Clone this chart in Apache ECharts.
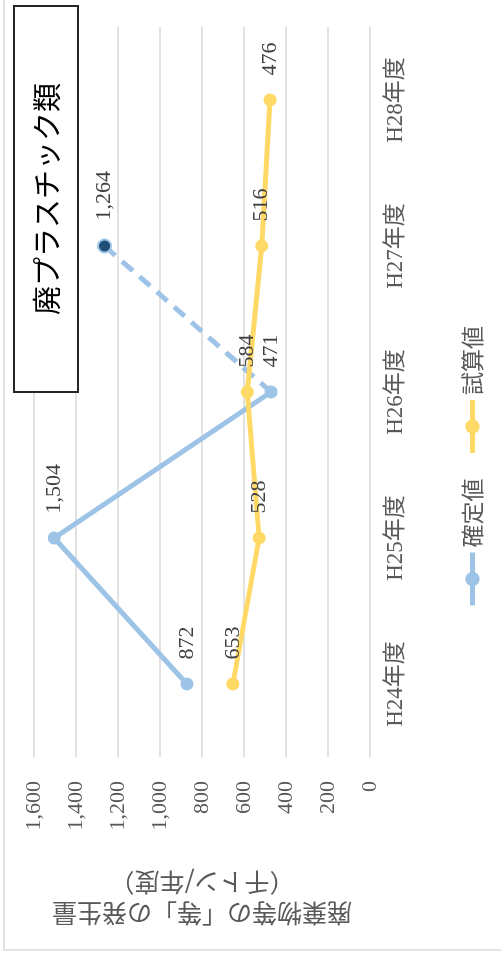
<!DOCTYPE html>
<html>
<head>
<meta charset="utf-8">
<script src="https://cdn.jsdelivr.net/npm/echarts@6/dist/echarts.min.js"></script>
<style>
html,body{margin:0;padding:0;background:#fff;overflow:hidden;width:501px;height:957px;}
#chart{position:absolute;left:0;top:0;width:957px;height:501px;transform-origin:0 0;transform:translateY(957px) rotate(-90deg);}
</style>
</head>
<body>
<div id="chart"></div>
<script>
const categories = ['H24年度', 'H25年度', 'H26年度', 'H27年度', 'H28年度'];
const confirmedValues = [872, 1504, 471, null, null];
const confirmedEstimate = [null, null, 471, 1264, null];
const trialValues = [653, 528, 584, 516, 476];
const valueTicks = { min: 0, max: 1600, interval: 200 };
const titleText = '廃プラスチック類';
const axisTitle = '廃棄物等の「等」の発生量\n（千トン/年度）';

const serif = '"Liberation Serif", "Noto Sans CJK JP", serif';
const fmt = v => Number(v).toLocaleString('en-US');
const BLUE = '#9dc3e6', YELLOW = '#ffd966', DARK = '#1f4e79';

const labelBase = {
  show: true, position: 'right', distance: 18,
  fontFamily: serif, fontSize: 22, color: '#404040',
  formatter: p => fmt(p.value)
};

const chart = echarts.init(document.getElementById('chart'), null, { renderer: 'canvas' });
chart.setOption({
  animation: false,
  backgroundColor: '#fff',
  grid: { left: 200, right: 27, top: 34, bottom: 131 },
  xAxis: {
    type: 'category', data: categories, boundaryGap: true,
    axisLine: { show: false }, axisTick: { show: false },
    axisLabel: { margin: 14, fontFamily: serif, fontSize: 23, color: '#595959' }
  },
  yAxis: {
    type: 'value', min: valueTicks.min, max: valueTicks.max, interval: valueTicks.interval,
    axisLine: { show: false }, axisTick: { show: false },
    axisLabel: { margin: 24, fontFamily: serif, fontSize: 22, color: '#595959', formatter: v => fmt(v) },
    splitLine: { lineStyle: { color: '#d9d9d9', width: 1.5 } },
    name: axisTitle, nameLocation: 'middle', nameRotate: 90, nameGap: 110,
    nameTextStyle: { fontFamily: '"Noto Sans CJK JP", sans-serif', fontSize: 25, lineHeight: 31, color: '#595959' }
  },
  legend: {
    data: ['確定値', '試算値'], left: 344, top: 456, orient: 'horizontal',
    itemWidth: 53, itemHeight: 18, itemGap: 23,
    lineStyle: { width: 5 },
    textStyle: { fontFamily: '"Noto Sans CJK JP", sans-serif', fontSize: 23, color: '#595959' }
  },
  graphic: [
    { type: 'rect', z: -10, silent: true, shape: { x: 7, y: 4, width: 1000, height: 600 },
      style: { fill: 'none', stroke: '#d9d9d9', lineWidth: 1.5 } },
    { type: 'rect', z: 10, shape: { x: 565, y: 14, width: 386, height: 64 },
      style: { fill: '#fff', stroke: '#262626', lineWidth: 2 } },
    { type: 'text', z: 11, x: 758, y: 47,
      style: { text: titleText, fontFamily: '"Noto Sans CJK JP", sans-serif', fontSize: 29, fill: '#000',
               align: 'center', verticalAlign: 'middle' } }
  ],
  series: [
    { name: '確定値', type: 'line', data: confirmedValues, showAllSymbol: true,
      symbol: 'circle', symbolSize: 13, color: BLUE,
      lineStyle: { color: BLUE, width: 5 }, itemStyle: { color: BLUE },
      label: labelBase, z: 2 },
    { name: '確定値（推計）', type: 'line', symbol: 'circle', symbolSize: 13,
      data: confirmedEstimate.map((v, i) => {
        if (v === null) return null;
        if (i === 3) return { value: v, itemStyle: { color: DARK, borderColor: BLUE, borderWidth: 2 },
                              label: Object.assign({}, labelBase) };
        return { value: v, symbol: 'none', label: { show: false } };
      }),
      lineStyle: { color: BLUE, width: 5, type: [14, 9] }, itemStyle: { color: BLUE },
      z: 2 },
    { name: '試算値', type: 'line', data: trialValues, showAllSymbol: true,
      symbol: 'circle', symbolSize: 13, color: YELLOW,
      lineStyle: { color: YELLOW, width: 5 }, itemStyle: { color: YELLOW },
      label: labelBase, z: 3 }
  ]
});
</script>
</body>
</html>
